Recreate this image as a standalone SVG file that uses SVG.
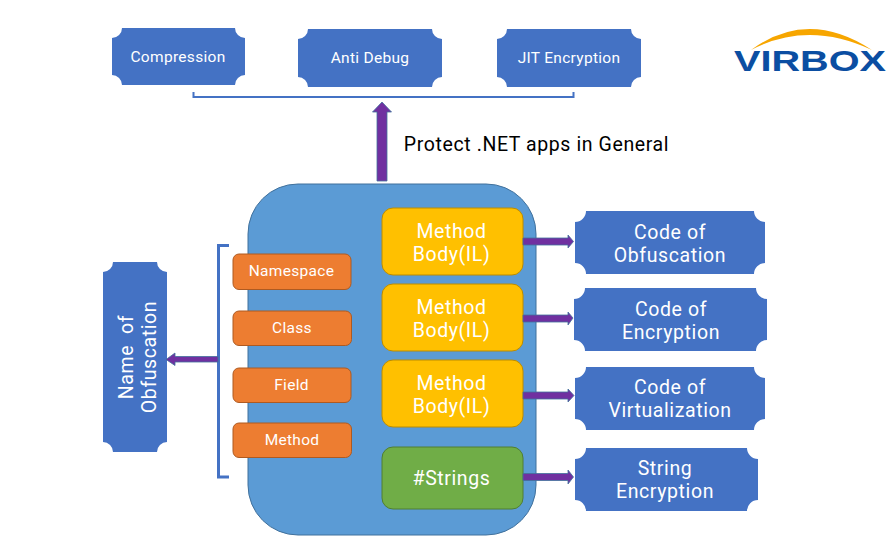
<svg xmlns="http://www.w3.org/2000/svg" width="896" height="548" viewBox="0 0 896 548">
<style>
text{font-family:Roboto,"Noto Sans",sans-serif;text-anchor:middle;fill:#fff}
.s{font-size:15.500px;letter-spacing:.3px}.o{font-size:15.500px;letter-spacing:.3px}.m{font-size:19.500px;letter-spacing:.6px}
.b{fill:#4472c4}.y{fill:#ffc000;stroke:#bc8c00;stroke-width:1}
.r{fill:#ed7d31;stroke:#ae5a21;stroke-width:1}
.g{fill:#70ad47;stroke:#507e32;stroke-width:1}
.a{fill:#7030a0;stroke:#41719c;stroke-width:.8}
.l{fill:none;stroke:#4472c4}
</style>
<g id="compression"><path class="b" d="M122 28H235A10 10 0 0 0 245 38V75A10 10 0 0 0 235 85H122A10 10 0 0 0 112 75V38A10 10 0 0 0 122 28Z"/><text class="s" x="178" y="62">Compression</text></g>
<g id="anti-debug"><path class="b" d="M308 29H432A10 10 0 0 0 442 39V77A10 10 0 0 0 432 87H308A10 10 0 0 0 298 77V39A10 10 0 0 0 308 29Z"/><text class="s" x="370" y="63">Anti Debug</text></g>
<g id="jit-encryption"><path class="b" d="M507 29H631A10 10 0 0 0 641 39V77A10 10 0 0 0 631 87H507A10 10 0 0 0 497 77V39A10 10 0 0 0 507 29Z"/><text class="s" x="569" y="63">JIT Encryption</text></g>
<g id="logo"><path d="M751 50Q808 8 872 50Q808 20 751 50Z" fill="#f7a600"/><text x="810" y="71" font-size="30" font-weight="700" textLength="152" lengthAdjust="spacingAndGlyphs" style="font-family:'Liberation Sans',sans-serif;fill:#0b4ea2">VIRBOX</text></g>
<g id="caption"><text x="536.500" y="151" font-size="19.500" letter-spacing=".6" style="fill:#000">Protect .NET apps in General</text></g>
<g id="core"><rect x="248" y="184" width="288" height="351" rx="50" fill="#5b9bd5" stroke="#41719c"/></g>
<g id="namespace"><rect class="r" x="233" y="254" width="118" height="35.500" rx="6"/><text class="o" x="291.500" y="276">Namespace</text></g>
<g id="class"><rect class="r" x="233" y="311" width="118.500" height="34.500" rx="6"/><text class="o" x="292" y="333">Class</text></g>
<g id="field"><rect class="r" x="233" y="368" width="118" height="34.500" rx="6"/><text class="o" x="291.500" y="390">Field</text></g>
<g id="method"><rect class="r" x="233" y="423" width="118.500" height="34.500" rx="6"/><text class="o" x="292" y="445">Method</text></g>
<g id="body-1"><rect class="y" x="382" y="208" width="141" height="67" rx="11"/><text class="m" x="451.500" y="238">Method</text><text class="m" x="451.500" y="261">Body(IL)</text></g>
<g id="body-2"><rect class="y" x="382" y="284" width="141" height="67" rx="11"/><text class="m" x="451.500" y="314">Method</text><text class="m" x="451.500" y="337">Body(IL)</text></g>
<g id="body-3"><rect class="y" x="382" y="360" width="141" height="67" rx="11"/><text class="m" x="451.500" y="390">Method</text><text class="m" x="451.500" y="413">Body(IL)</text></g>
<g id="strings"><rect class="g" x="382" y="447" width="141" height="62" rx="11"/><text class="m" x="451.500" y="485">#Strings</text></g>
<g id="name-obfuscation"><path class="b" d="M113 262H157A10 10 0 0 0 167 272V442A10 10 0 0 0 157 452H113A10 10 0 0 0 103 442V272A10 10 0 0 0 113 262Z"/><g transform="translate(144 357) rotate(-90)"><text class="m" x="0" y="-11" xml:space="preserve">Name  of</text><text class="m" x="0" y="12">Obfuscation</text></g></g>
<g id="code-obfuscation"><path class="b" d="M586 211H754A11 11 0 0 0 765 222V263A11 11 0 0 0 754 274H586A11 11 0 0 0 575 263V222A11 11 0 0 0 586 211Z"/><text class="m" x="670" y="239">Code of</text><text class="m" x="670" y="262">Obfuscation</text></g>
<g id="code-encryption"><path class="b" d="M585 288H756A11 11 0 0 0 767 299V340A11 11 0 0 0 756 351H585A11 11 0 0 0 574 340V299A11 11 0 0 0 585 288Z"/><text class="m" x="671" y="316">Code of</text><text class="m" x="671" y="339">Encryption</text></g>
<g id="code-virtualization"><path class="b" d="M586 367H754A11 11 0 0 0 765 378V419A11 11 0 0 0 754 430H586A11 11 0 0 0 575 419V378A11 11 0 0 0 586 367Z"/><text class="m" x="670" y="394">Code of</text><text class="m" x="670" y="417">Virtualization</text></g>
<g id="string-encryption"><path class="b" d="M586 448H747A11 11 0 0 0 758 459V500A11 11 0 0 0 747 511H586A11 11 0 0 0 575 500V459A11 11 0 0 0 586 448Z"/><text class="m" x="665" y="475">String</text><text class="m" x="665" y="498">Encryption</text></g>
<g id="connectors">
<path class="l" stroke-width="2" d="M193.500 92V97H573.500V92"/>
<path class="l" stroke-width="3" d="M229 245.500H218.500V477H229"/>
<path class="a" d="M377 181V112H372.500L382 102L391.500 112H387V181Z"/>
<path class="a" d="M218 356.500V362H175V365.500L166 359.500L175 353V356.500Z"/>
<path class="a" d="M523 238H568V235L573.500 241.500L568 248V245H523Z"/>
<path class="a" d="M523 315H568V312L573 318L568 325V322H523Z"/>
<path class="a" d="M523 392H568V389L574 395.500L568 402V399H523Z"/>
<path class="a" d="M523 473.500H568V470L573.500 477L568 484V480.500H523Z"/>
</g>
</svg>
